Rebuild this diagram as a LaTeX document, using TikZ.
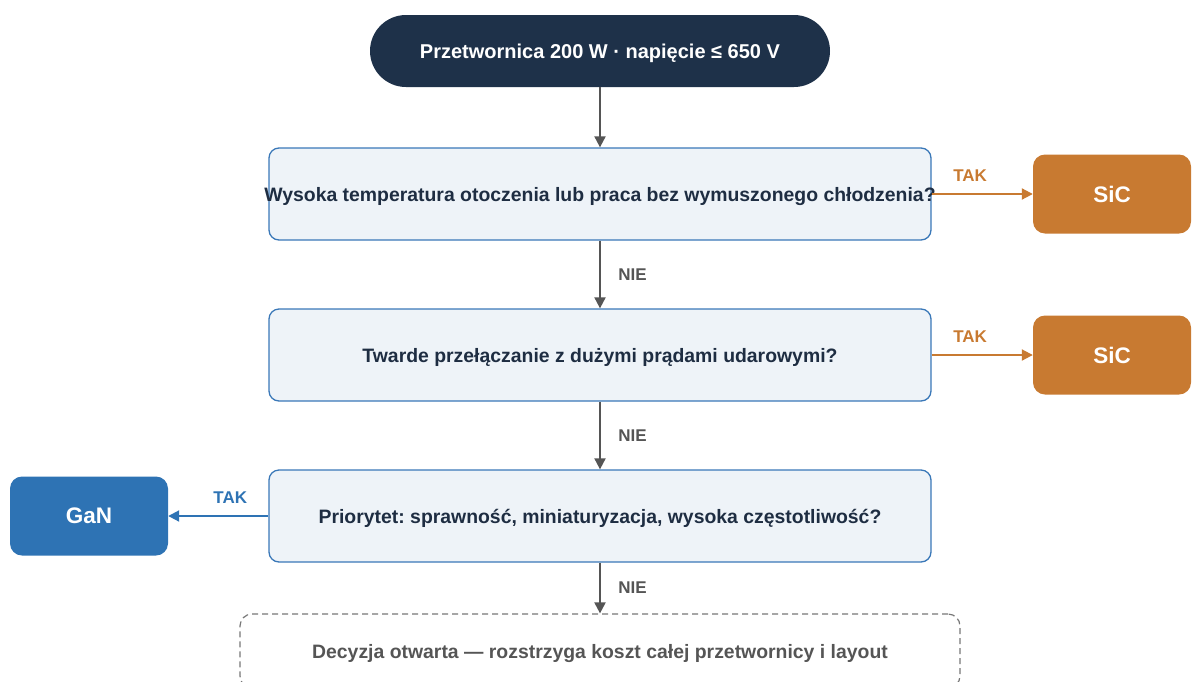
\documentclass[tikz,border=0pt]{standalone}
\usepackage{fontspec}
\setmainfont{Liberation Sans}
\usetikzlibrary{arrows.meta,positioning}
\definecolor{navy}{HTML}{1E3149}
\definecolor{qfill}{HTML}{EEF3F8}
\definecolor{qdraw}{HTML}{3A78B8}
\definecolor{qtext}{HTML}{1E2D42}
\definecolor{sicc}{HTML}{C87A31}
\definecolor{ganc}{HTML}{2E73B4}
\definecolor{flowc}{HTML}{555555}
\begin{document}
\frenchspacing
\begin{tikzpicture}[
  x=1pt,y=-1pt,
  node distance=161pt,
  on grid,
  >={Triangle[length=11pt,width=11pt]},
  every node/.style={font=\bfseries\fontsize{19.4}{23}\selectfont},
  start/.style={rounded corners=36pt,fill=navy,text=white,minimum width=460pt,minimum height=72pt,text depth=0pt,font=\bfseries\fontsize{20}{24}\selectfont},
  question/.style={rounded corners=10pt,draw=qdraw,line width=1.3pt,fill=qfill,text=qtext,minimum width=662pt,minimum height=92pt,text depth=0pt},
  sic/.style={rounded corners=12pt,fill=sicc,text=white,minimum width=158pt,minimum height=79pt,font=\bfseries\fontsize{22.5}{27}\selectfont},
  gan/.style={sic,fill=ganc},
  open/.style={rounded corners=12pt,draw=flowc!80,dash pattern=on 6pt off 4pt,line width=1.2pt,text=flowc,minimum width=720pt,minimum height=74pt,text depth=0pt},
  flow/.style={->,draw=flowc,line width=2pt},
  yes/.style={->,line width=2pt},
  answer/.style={text=flowc,font=\bfseries\fontsize{17}{20}\selectfont},
  tak/.style={answer,pos=0.38,yshift=18pt}]
  \useasboundingbox (0,0) rectangle (1194,681);
  % s-start q-question o-open
  \node [start] (s) at (600,51) {Przetwornica 200 W · napięcie ≤ 650 V};
  \node [question] (q1) at (600,194) {\makebox[0pt]{Wysoka temperatura otoczenia lub praca bez wymuszonego chłodzenia?}};
  \node [question] (q2) [below=of q1] {Twarde przełączanie z dużymi prądami udarowymi?};
  \node [question] (q3) [below=of q2] {Priorytet: sprawność, miniaturyzacja, wysoka częstotliwość?};
  \node [open] (o) [below=135pt of q3] {Decyzja otwarta — rozstrzyga koszt całej przetwornicy i layout};
  \node [sic] (sic1) [right=512pt of q1] {SiC};
  \node [sic] (sic2) [right=512pt of q2] {SiC};
  \node [gan] (gan) [left=511pt of q3] {GaN};
  \draw [flow] (s) -- (q1);
  \draw [flow] (q1) -- node [answer,right=14pt] {NIE} (q2);
  \draw [flow] (q2) -- node [answer,right=14pt] {NIE} (q3);
  \draw [flow] (q3) -- node [answer,right=14pt] {NIE} (o);
  \draw [yes,draw=sicc] (q1) -- node [tak,text=sicc] {TAK} (sic1);
  \draw [yes,draw=sicc] (q2) -- node [tak,text=sicc] {TAK} (sic2);
  \draw [yes,draw=ganc] (q3) -- node [tak,text=ganc] {TAK} (gan);
\end{tikzpicture}
\end{document}
